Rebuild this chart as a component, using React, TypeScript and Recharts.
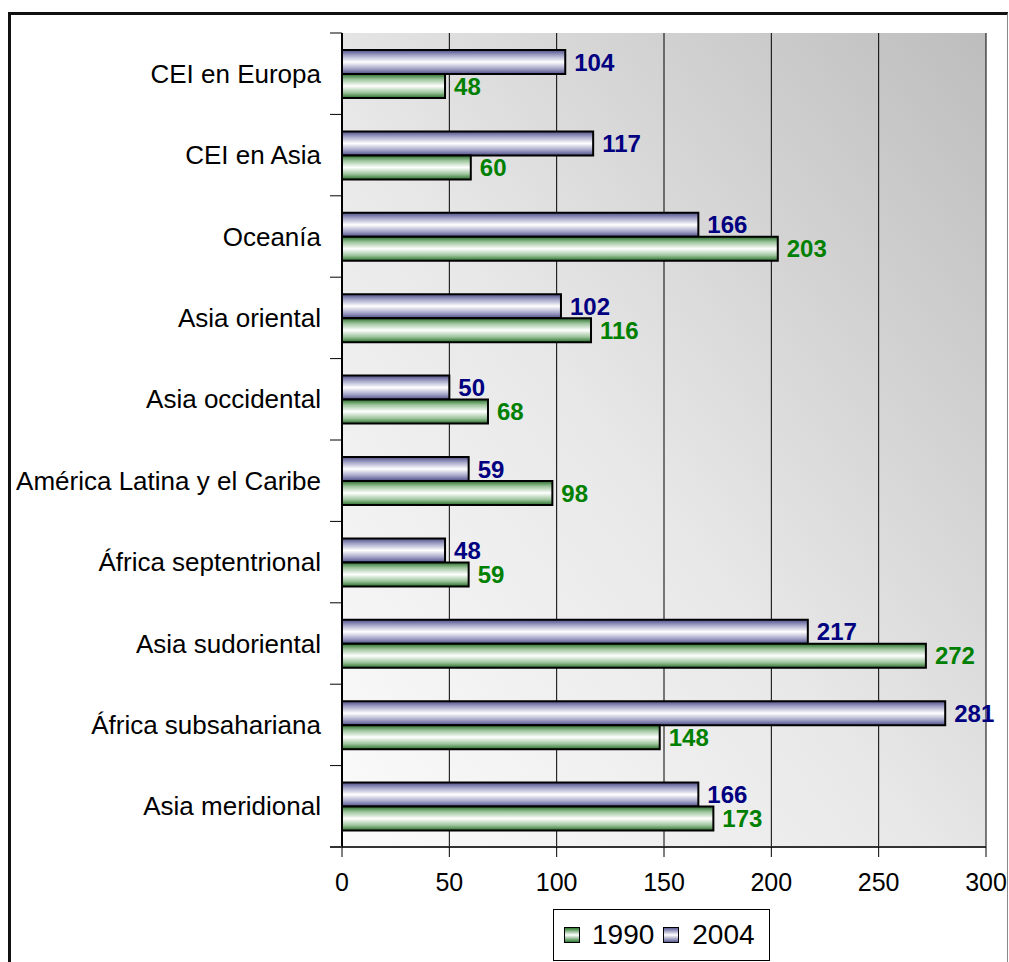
import React from 'react';
import { BarChart, Bar, XAxis, YAxis, CartesianGrid, LabelList, Legend } from 'recharts';

const categories = [
  'CEI en Europa',
  'CEI en Asia',
  'Oceanía',
  'Asia oriental',
  'Asia occidental',
  'América Latina y el Caribe',
  'África septentrional',
  'Asia sudoriental',
  'África subsahariana',
  'Asia meridional',
];
const values1990 = [48, 60, 203, 116, 68, 98, 59, 272, 148, 173];
const values2004 = [104, 117, 166, 102, 50, 59, 48, 217, 281, 166];
const xTicks = [0, 50, 100, 150, 200, 250, 300];
const seriesNames = ['1990', '2004'];

const data = categories.map((name, i) => ({ name, v1990: values1990[i], v2004: values2004[i] }));

const FONT = '"Liberation Sans", Arial, sans-serif';
const W = 1009;
const H = 962;
const PLOT_TOP = 33;
const PLOT_BOTTOM = 847;
const PLOT_LEFT = 342;
const BAND = (PLOT_BOTTOM - PLOT_TOP) / categories.length;

const YTick = (props: any) => {
  const { x, y, payload, index } = props;
  const ax = x + 21;
  return (
    <g>
      <line x1={ax - 12} x2={ax} y1={y - BAND / 2} y2={y - BAND / 2} stroke="#000" strokeWidth={1} />
      {index === categories.length - 1 && (
        <line x1={ax - 12} x2={ax} y1={y + BAND / 2} y2={y + BAND / 2} stroke="#333" strokeWidth={2} />
      )}
      <text x={x} y={y} textAnchor="end" dominantBaseline="central" fontSize={26} fill="#000" fontFamily={FONT}>
        {payload.value}
      </text>
    </g>
  );
};

const swatch = (dark: string) => ({
  width: 16,
  height: 16,
  border: '1px solid #000',
  background: `linear-gradient(to bottom, ${dark} 0%, #ffffff 50%, ${dark} 100%)`,
  boxSizing: 'border-box' as const,
});

const LegendBox = () => (
  <div
    style={{
      width: 217,
      height: 52,
      border: '1px solid #000',
      boxSizing: 'border-box',
      background: '#fff',
      display: 'flex',
      alignItems: 'center',
      fontFamily: FONT,
      fontSize: 28,
      color: '#000',
    }}
  >
    <div style={{ ...swatch('#2f7a2f'), marginLeft: 10, marginRight: 12 }} />
    <span>{seriesNames[0]}</span>
    <div style={{ ...swatch('#5c5c94'), marginLeft: 9, marginRight: 13 }} />
    <span>{seriesNames[1]}</span>
  </div>
);

export default function App() {
  return (
    <div style={{ position: 'absolute', left: 0, top: 0, width: W, height: H, overflow: 'hidden', background: '#fff' }}>
      <div
        style={{
          position: 'absolute',
          left: 8,
          top: 12,
          width: W - 8 - 1,
          height: H,
          borderLeft: '3px solid #111',
          borderTop: '3px solid #111',
          borderRight: '1px solid #888',
          boxSizing: 'border-box',
        }}
      />
      <div style={{ position: 'absolute', left: 0, top: 0 }}>
        <BarChart
          width={W}
          height={H}
          data={data}
          layout="vertical"
          margin={{ top: PLOT_TOP, right: W - 986, bottom: 75, left: 0 }}
          barSize={24}
          barGap={0}
          style={{ fontFamily: FONT }}
        >
          <defs>
            <linearGradient id="bgGrad" x1="0" y1="1" x2="1" y2="0">
              <stop offset="0%" stopColor="#fbfbfb" />
              <stop offset="45%" stopColor="#e8e8e8" />
              <stop offset="100%" stopColor="#bdbdbd" />
            </linearGradient>
            <linearGradient id="g2004" x1="0" y1="0" x2="0" y2="1">
              <stop offset="0%" stopColor="#4e4e88" />
              <stop offset="22%" stopColor="#a4a4c8" />
              <stop offset="50%" stopColor="#ffffff" />
              <stop offset="78%" stopColor="#a4a4c8" />
              <stop offset="100%" stopColor="#4e4e88" />
            </linearGradient>
            <linearGradient id="g1990" x1="0" y1="0" x2="0" y2="1">
              <stop offset="0%" stopColor="#2a6e2a" />
              <stop offset="22%" stopColor="#9cc49c" />
              <stop offset="50%" stopColor="#ffffff" />
              <stop offset="78%" stopColor="#9cc49c" />
              <stop offset="100%" stopColor="#2a6e2a" />
            </linearGradient>
          </defs>
          <CartesianGrid horizontal={false} vertical={true} stroke="#000" strokeWidth={1} fill="url(#bgGrad)" />
          <XAxis
            type="number"
            domain={[0, 300]}
            ticks={xTicks}
            interval={0}
            axisLine={{ stroke: '#333', strokeWidth: 2 }}
            tickLine={{ stroke: '#000', strokeWidth: 1 }}
            tickSize={10}
            tickMargin={16}
            tick={{ fontSize: 25, fill: '#000', fontFamily: FONT }}
            height={40}
          />
          <XAxis
            xAxisId="top"
            orientation="top"
            type="number"
            domain={[0, 300]}
            height={0}
            tick={false}
            tickLine={false}
            axisLine={{ stroke: '#8a8a8a', strokeWidth: 2 }}
          />
          <YAxis
            type="category"
            dataKey="name"
            width={PLOT_LEFT}
            axisLine={{ stroke: '#000', strokeWidth: 2 }}
            tickLine={false}
            tickSize={0}
            tickMargin={21}
            interval={0}
            tick={<YTick />}
          />
          <YAxis
            yAxisId="right"
            orientation="right"
            type="category"
            dataKey="name"
            width={0}
            tick={false}
            tickLine={false}
            axisLine={{ stroke: '#8a8a8a', strokeWidth: 2 }}
          />
          <Legend
            layout="vertical"
            align="center"
            verticalAlign="middle"
            content={() => <LegendBox />}
            wrapperStyle={{ position: 'absolute', left: 553, top: 909, width: 217, height: 52 }}
          />
          <Bar dataKey="v2004" name={seriesNames[1]} fill="url(#g2004)" stroke="#000" strokeWidth={2} isAnimationActive={false}>
            <LabelList dataKey="v2004" position="right" offset={9} fill="#000080" fontWeight="bold" fontSize={24} fontFamily={FONT} />
          </Bar>
          <Bar dataKey="v1990" name={seriesNames[0]} fill="url(#g1990)" stroke="#000" strokeWidth={2} isAnimationActive={false}>
            <LabelList dataKey="v1990" position="right" offset={9} fill="#008000" fontWeight="bold" fontSize={24} fontFamily={FONT} />
          </Bar>
        </BarChart>
      </div>
    </div>
  );
}
